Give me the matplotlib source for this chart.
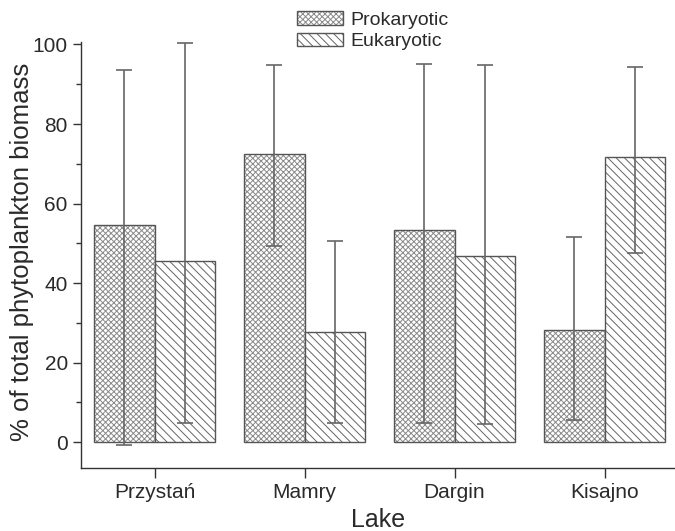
import matplotlib
matplotlib.use("Agg")
import matplotlib.pyplot as plt
import numpy as np
from matplotlib.ticker import MultipleLocator

plt.rcParams['font.family'] = ['Liberation Sans', 'DejaVu Sans']
plt.rcParams['hatch.linewidth'] = 0.7

lakes = ["Przystań", "Mamry", "Dargin", "Kisajno"]
prok = [54.5, 72.4, 53.3, 28.2]
prok_low = [-0.7, 49.3, 4.9, 5.6]
prok_high = [93.7, 94.8, 95.1, 51.6]
euk = [45.5, 27.6, 46.7, 71.8]
euk_low = [4.9, 4.9, 4.6, 47.6]
euk_high = [100.3, 50.5, 94.9, 94.3]

fig = plt.figure(figsize=(6.75, 5.31), dpi=100)
ax = fig.add_axes([0.12, 0.1186, 0.88, 0.8014])

x = np.arange(len(lakes))
w = 0.405
edge = '#555555'
text_c = '#2a2a2a'

prok = np.array(prok); euk = np.array(euk)
perr = [prok - np.array(prok_low), np.array(prok_high) - prok]
eerr = [euk - np.array(euk_low), np.array(euk_high) - euk]

b1 = ax.bar(x - w/2, prok, w, color='white', edgecolor=edge, hatch='xxxxxx',
            linewidth=1.0, label='Prokaryotic')
b2 = ax.bar(x + w/2, euk, w, color='white', edgecolor=edge, hatch='\\\\\\\\',
            linewidth=1.0, label='Eukaryotic')
for b in b1:
    b._hatch_color = matplotlib.colors.to_rgba('#8a8a8a')
for b in b2:
    b._hatch_color = matplotlib.colors.to_rgba('#666666')

ekw = dict(fmt='none', ecolor='#666666', elinewidth=1.2, capsize=5.5, capthick=1.2)
e1 = ax.errorbar(x - w/2, prok, yerr=perr, **ekw)
e2 = ax.errorbar(x + w/2, euk, yerr=eerr, **ekw)
for e in (e1, e2):
    for art in list(e.lines[1]) + list(e.lines[2]):
        art.set_clip_on(False)

ax.set_xlim(-0.49, 3.47)
ax.set_ylim(-6.5, 100.5)
ax.spines['top'].set_visible(False)
ax.spines['right'].set_visible(False)
for s in ('left', 'bottom'):
    ax.spines[s].set_color('#333333')
    ax.spines[s].set_linewidth(1.0)

ax.set_xticks(x)
ax.set_xticklabels(lakes)
ax.yaxis.set_major_locator(MultipleLocator(20))
ax.yaxis.set_minor_locator(MultipleLocator(10))
ax.tick_params(axis='both', which='major', direction='out', length=6, width=1,
               color='#333333', labelsize=15, labelcolor=text_c)
ax.tick_params(axis='x', which='major', length=7, pad=4)
ax.tick_params(axis='y', which='minor', direction='out', length=3.5, width=1, color='#333333')

ax.set_ylabel('% of total phytoplankton biomass', fontsize=18.5, color=text_c,
              va='center', ha='center')
ax.yaxis.set_label_coords(-0.099, 0.509)
ax.set_xlabel('Lake', fontsize=18, color=text_c, labelpad=4)

leg = fig.legend(handles=[b1, b2], loc='upper left', bbox_to_anchor=(0.417, 1.008),
                 frameon=False, fontsize=14, handlelength=2.35, handleheight=0.72,
                 handletextpad=0.4, labelspacing=0.18, borderpad=0.3)
for t in leg.get_texts():
    t.set_color(text_c)

fig.savefig('out.png', dpi=100)
